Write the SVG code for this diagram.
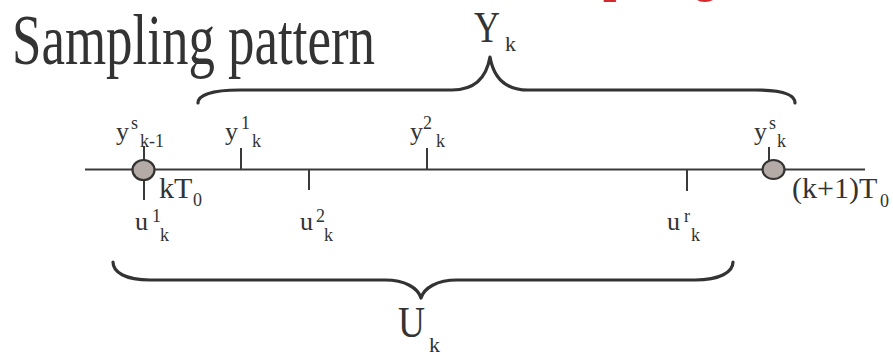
<svg xmlns="http://www.w3.org/2000/svg" width="893" height="358" viewBox="0 0 893 358">
<style>
.t{font-family:"Liberation Serif","Times New Roman",serif;fill:#333}
.m{font-size:26px}
.s{font-size:18px}
.ln{stroke:#3a3a3a;stroke-width:2;fill:none}
.br{stroke:#333;stroke-width:3.2;fill:none;stroke-linecap:round;stroke-linejoin:round}
.dot{fill:#b4aaa6;stroke:#333;stroke-width:2.2}
</style>
<rect width="893" height="358" fill="#fff"/>
<g id="title">
<text class="t" x="12" y="64" font-size="72" textLength="363" lengthAdjust="spacingAndGlyphs">Sampling pattern</text>
<text x="511" y="-15" font-family="Liberation Serif,serif" font-size="78" fill="#d42a2f" textLength="209" lengthAdjust="spacingAndGlyphs">sampling</text>
</g>
<g id="connectors">
<line class="ln" x1="85" y1="169.5" x2="865" y2="169.5"/>
<line class="ln" x1="144" y1="146" x2="144" y2="160"/>
<line class="ln" x1="144" y1="180" x2="144" y2="200"/>
<line class="ln" x1="241" y1="148" x2="241" y2="170"/>
<line class="ln" x1="309" y1="170" x2="309" y2="190"/>
<line class="ln" x1="427" y1="148" x2="427" y2="170"/>
<line class="ln" x1="687" y1="170" x2="687" y2="191"/>
<line class="ln" x1="769" y1="147" x2="769" y2="160"/>
</g>
<g id="braces">
<path class="br" d="M198,103 C198,95 212,90 240,90 L452,90 C472,90 486,80 490,57 C494,80 508,90 528,90 L755,90 C783,90 795,95 795,103"/>
<path class="br" d="M113,262 C113,272 125,280 150,280 L385,280 C405,280 418,288 421,298 C424,288 437,280 457,280 L695,280 C720,280 733,272 733,262"/>
</g>
<g id="node-kT0">
<ellipse class="dot" cx="143.5" cy="170" rx="11" ry="10"/>
<text class="t" x="159" y="198" font-size="30">kT</text>
<text class="t s" x="193" y="206">0</text>
</g>
<g id="node-k1T0">
<ellipse class="dot" cx="773.5" cy="169.5" rx="11" ry="9.5"/>
<text class="t" x="792" y="198" font-size="30">(k+1)T</text>
<text class="t s" x="880" y="207">0</text>
</g>
<g id="label-ysk1">
<text class="t m" x="116" y="140">y</text>
<text class="t s" x="131" y="129">s</text>
<text class="t s" x="140" y="147">k-1</text>
</g>
<g id="label-y1k">
<text class="t m" x="225" y="140">y</text>
<text class="t s" x="241" y="129">1</text>
<text class="t s" x="252" y="147">k</text>
</g>
<g id="label-y2k">
<text class="t m" x="410" y="140">y</text>
<text class="t s" x="423" y="129">2</text>
<text class="t s" x="436" y="147">k</text>
</g>
<g id="label-ysk">
<text class="t m" x="754" y="140">y</text>
<text class="t s" x="769" y="129">s</text>
<text class="t s" x="777" y="147">k</text>
</g>
<g id="label-u1k">
<text class="t m" x="135" y="230">u</text>
<text class="t s" x="152" y="222">1</text>
<text class="t s" x="160" y="241">k</text>
</g>
<g id="label-u2k">
<text class="t m" x="300" y="230">u</text>
<text class="t s" x="316" y="222">2</text>
<text class="t s" x="324" y="241">k</text>
</g>
<g id="label-urk">
<text class="t m" x="667" y="230">u</text>
<text class="t s" x="684" y="222">r</text>
<text class="t s" x="691" y="241">k</text>
</g>
<g id="label-Yk">
<text class="t" x="474" y="42" font-size="45" textLength="26" lengthAdjust="spacingAndGlyphs">Y</text>
<text class="t" x="505" y="51" font-size="22">k</text>
</g>
<g id="label-Uk">
<text class="t" x="398" y="337" font-size="45" textLength="27" lengthAdjust="spacingAndGlyphs">U</text>
<text class="t" x="429" y="352" font-size="22">k</text>
</g>
</svg>
